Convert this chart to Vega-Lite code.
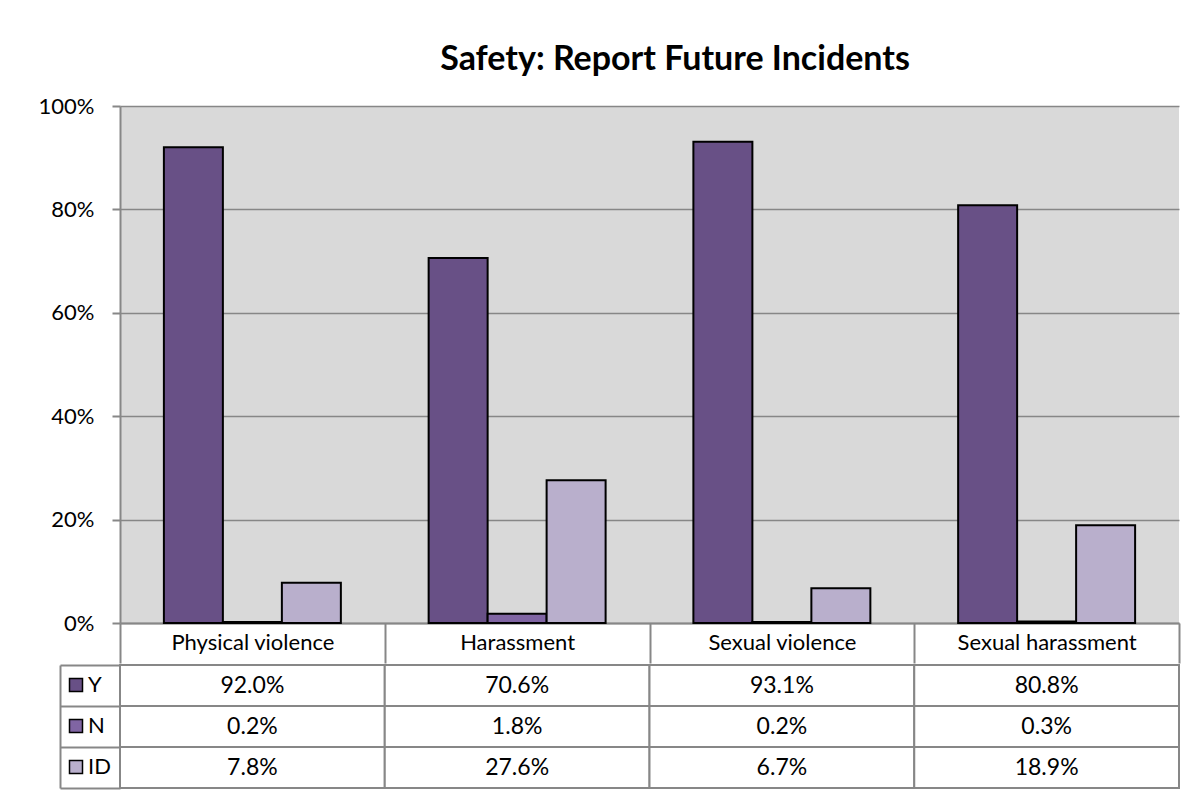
{
  "$schema": "https://vega.github.io/schema/vega-lite/v6.json",
  "background": "white",
  "padding": {"left": 38, "top": 43, "right": 19, "bottom": 5},
  "title": {"text": "Safety: Report Future Incidents", "font": "Lato", "fontSize": 34, "fontWeight": "bold", "color": "black", "anchor": "middle", "offset": 18, "dx": 66},
  "config": {
    "font": "Lato",
    "view": {"stroke": null},
    "axis": {"labelFont": "Lato", "labelColor": "black", "titleFont": "Lato"},
    "legend": {"labelFont": "Lato"}
  },
  "datasets": {
    "bars": [
      {"category": "Physical violence", "series": "Y", "value": 0.920},
      {"category": "Physical violence", "series": "N", "value": 0.002},
      {"category": "Physical violence", "series": "ID", "value": 0.078},
      {"category": "Harassment", "series": "Y", "value": 0.706},
      {"category": "Harassment", "series": "N", "value": 0.018},
      {"category": "Harassment", "series": "ID", "value": 0.276},
      {"category": "Sexual violence", "series": "Y", "value": 0.931},
      {"category": "Sexual violence", "series": "N", "value": 0.002},
      {"category": "Sexual violence", "series": "ID", "value": 0.067},
      {"category": "Sexual harassment", "series": "Y", "value": 0.808},
      {"category": "Sexual harassment", "series": "N", "value": 0.003},
      {"category": "Sexual harassment", "series": "ID", "value": 0.189}
    ]
  },
  "spacing": 0,
  "vconcat": [
    {
      "width": 1059,
      "height": 517,
      "view": {"fill": "#D9D9D9", "stroke": null},
      "data": {"name": "bars"},
      "mark": {"type": "bar", "stroke": "black", "strokeWidth": 2},
      "encoding": {
        "x": {
          "field": "category", "type": "nominal",
          "sort": ["Physical violence", "Harassment", "Sexual violence", "Sexual harassment"],
          "scale": {"paddingInner": 0, "paddingOuter": 0},
          "axis": {"title": null, "labelAngle": 0, "labelFontSize": 22, "tickBand": "extent", "tickSize": 40, "tickColor": "#878787", "tickWidth": 2, "domainColor": "#878787", "domainWidth": 2, "labelPadding": -31}
        },
        "xOffset": {
          "field": "series", "type": "nominal",
          "sort": ["Y", "N", "ID"],
          "scale": {"paddingInner": 0, "paddingOuter": 0.744}
        },
        "y": {
          "field": "value", "type": "quantitative",
          "scale": {"domain": [0, 1]},
          "axis": {"title": null, "values": [0, 0.2, 0.4, 0.6, 0.8, 1], "format": ".0%", "labelFontSize": 22, "tickSize": 8, "tickColor": "#878787", "tickWidth": 2, "domainColor": "#878787", "domainWidth": 2, "gridColor": "#878787", "gridWidth": 1.5, "labelPadding": 18}
        },
        "color": {
          "field": "series", "type": "nominal",
          "sort": ["Y", "N", "ID"],
          "scale": {"domain": ["Y", "N", "ID"], "range": ["#685086", "#8065A3", "#B9AFCC"]},
          "legend": {"title": null, "orient": "none", "legendX": -55, "legendY": 568, "symbolType": "square", "symbolSize": 169, "symbolStrokeColor": "black", "symbolStrokeWidth": 1.5, "symbolOpacity": 1, "labelFontSize": 22, "labelColor": "black", "labelOffset": 1, "rowPadding": 19, "padding": 0}
        }
      }
    },
    {
      "width": 1059,
      "height": 123,
      "view": {"stroke": null},
      "data": {"name": "bars"},
      "encoding": {
        "x": {
          "field": "category", "type": "nominal",
          "sort": ["Physical violence", "Harassment", "Sexual violence", "Sexual harassment"],
          "scale": {"paddingInner": 0, "paddingOuter": 0},
          "axis": null
        },
        "y": {
          "field": "series", "type": "nominal",
          "sort": ["Y", "N", "ID"],
          "scale": {"domain": ["Y", "N", "ID"], "paddingInner": 0, "paddingOuter": 0},
          "axis": {"title": null, "labels": false, "tickBand": "extent", "tickSize": -60, "offset": 60, "tickColor": "#878787", "tickWidth": 2, "domainColor": "#878787", "domainWidth": 2}
        }
      },
      "layer": [
        {"mark": {"type": "rect", "fill": "white", "stroke": "#878787", "strokeWidth": 2}},
        {"mark": {"type": "text", "fontSize": 23, "color": "black", "font": "Lato"},
         "encoding": {"text": {"field": "value", "type": "quantitative", "format": ".1%"}}}
      ]
    }
  ]
}
